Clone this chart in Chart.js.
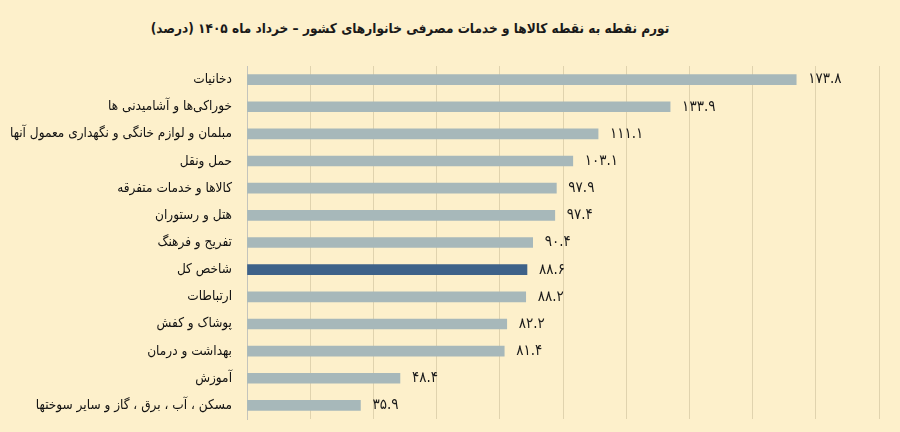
<!DOCTYPE html>
<html>
<head>
<meta charset="utf-8">
<script src="https://cdn.jsdelivr.net/npm/chart.js@4.4.1/dist/chart.umd.min.js"></script>
<style>
  html, body { margin: 0; padding: 0; background: #fdf0cb; }
  #wrap { position: relative; width: 900px; height: 432px; }
  #title {
    position: absolute; top: 20px; left: 0; width: 820px;
    text-align: center; direction: rtl;
    font: bold 13.5px "DejaVu Sans Condensed", "DejaVu Sans", sans-serif; color: #1a1a1a;
  }
  canvas { position: absolute; left: 0; top: 0; }
</style>
</head>
<body>
<div id="wrap">
  <div id="title">تورم نقطه به نقطه کالاها و خدمات مصرفی خانوارهای کشور – خرداد ماه ۱۴۰۵ (درصد)</div>
  <canvas id="chart" width="900" height="432"></canvas>
</div>
<script>
// categories, top to bottom
let categories = [
  'دخانیات',
  'خوراکی‌ها و آشامیدنی ها',
  'مبلمان و لوازم خانگی و نگهداری معمول آنها',
  'حمل ونقل',
  'کالاها و خدمات متفرقه',
  'هتل و رستوران',
  'تفریح و فرهنگ',
  'شاخص کل',
  'ارتباطات',
  'پوشاک و کفش',
  'بهداشت و درمان',
  'آموزش',
  'مسکن ، آب ، برق ، گاز و سایر سوختها',
]

let inflation = [173.8, 133.9, 111.1, 103.1, 97.9, 97.4, 90.4, 88.6, 88.2, 82.2, 81.4, 48.4, 35.9]

let highlight = 'شاخص کل'

let xMin = 0
let xMax = 200
let xStep = 20

const faDigits = '۰۱۲۳۴۵۶۷۸۹'
let toFa = (v) => v.toFixed(1).replace(/[0-9]/g, (d) => faDigits[+d])

let barColors = categories.map((c) => c === highlight ? '#3e6289' : '#a7b8ba')

let valueLabels = {
  id: 'valueLabels',
  afterDatasetsDraw(chart) {
    let ctx = chart.ctx
    let meta = chart.getDatasetMeta(0)
    ctx.save()
    ctx.font = '15px "DejaVu Sans Condensed", "DejaVu Sans", sans-serif'
    ctx.fillStyle = '#1a1a1a'
    ctx.textBaseline = 'middle'
    ctx.textAlign = 'left'
    meta.data.forEach((bar, i) => {
      ctx.fillText(toFa(inflation[i]), bar.x + 12, bar.y)
    })
    ctx.restore()
  },
}

new Chart(document.getElementById('chart'), {
  type: 'bar',
  data: {
    labels: categories,
    datasets: [{
      data: inflation,
      backgroundColor: barColors,
      barThickness: 10,
    }],
  },
  options: {
    indexAxis: 'y',
    responsive: false,
    animation: false,
    layout: { padding: { top: 66, right: 21, bottom: 13, left: 0 } },
    plugins: {
      legend: { display: false },
      tooltip: { enabled: false },
    },
    scales: {
      x: {
        min: xMin,
        max: xMax,
        afterFit: (scale) => { scale.height = 0 },
        ticks: { display: false, stepSize: xStep },
        grid: { color: '#e0d3ae', drawTicks: false },
        border: { display: false },
      },
      y: {
        afterFit: (scale) => {
          scale.width = 247
          scale.paddingTop = 0
          scale.paddingBottom = 0
        },
        grid: { display: false, drawTicks: false },
        border: { color: '#c4c4bc' },
        ticks: {
          color: '#111',
          padding: 15,
          font: { family: '"DejaVu Sans Condensed", "DejaVu Sans", sans-serif', size: 13.5 },
        },
      },
    },
  },
  plugins: [valueLabels],
})
</script>
</body>
</html>
